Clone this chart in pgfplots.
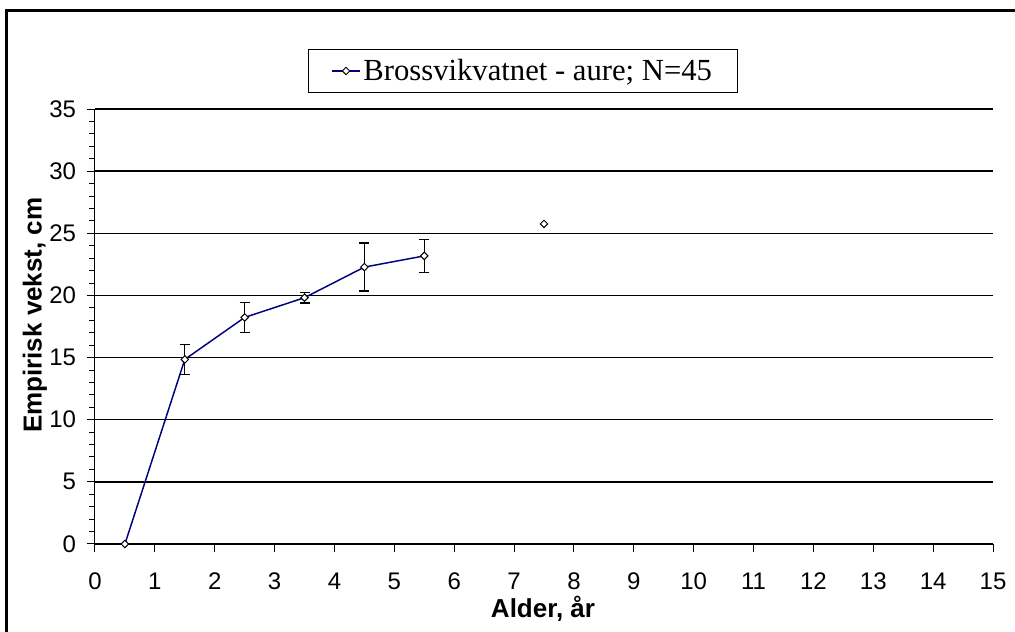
\documentclass[border=0pt]{standalone}
\usepackage{fontspec}
\setmainfont{Liberation Sans}
\newfontfamily\timesfont{Liberation Serif}
\usepackage{pgfplots}
\pgfplotsset{compat=1.18}
\definecolor{navyline}{RGB}{0,0,128}
\begin{document}
\begin{tikzpicture}
\useasboundingbox (0pt,0pt) rectangle (761.25pt,474pt);
\draw[line width=2.25pt] (4.875pt,465.75pt) rectangle (775pt,-15pt);
\begin{axis}[
  at={(71.25pt,66pt)}, anchor=south west,
  scale only axis, width=673.5pt, height=326.25pt,
  xmin=0, xmax=15, ymin=0, ymax=35,
  xtick={0,1,...,15}, ytick={0,5,...,35},
  minor y tick num=4,
  axis x line*=bottom, axis y line*=left,
  axis line style={-, black, line width=0.75pt},
  tick align=outside,
  major tick length=6pt, minor tick length=4.5pt,
  tick style={black, line width=0.75pt},
  ymajorgrids,
  major grid style={black, line width=1.1pt},
  /pgf/number format/assume math mode=true,
  tick label style={font=\fontsize{18}{18}\selectfont, inner sep=0pt},
  yticklabel style={anchor=east, xshift=-8pt},
  xticklabel style={anchor=base, yshift=-28pt},
  xlabel={Alder, år},
  ylabel={Empirisk vekst, cm},
  label style={font=\bfseries\fontsize{19.5}{19.5}\selectfont, inner sep=0pt},
  xlabel style={at={(axis description cs:0.4989,-0.1701)}, anchor=base},
  ylabel style={at={(axis description cs:-0.0594,0.526)}, anchor=base},
  unbounded coords=jump,
  legend style={at={(0.4766,1.0874)}, anchor=center, draw=black, line width=0.75pt,
    font=\timesfont\fontsize{23}{23}\selectfont, inner xsep=17pt, inner ysep=5.25pt},
  legend image code/.code={\draw[#1, mark repeat=2, mark phase=2] plot coordinates {(0pt,0pt) (10.5pt,0pt) (21pt,0pt)};},
]
\addplot[black, only marks, mark=none, forget plot,
  error bars/.cd, y dir=both, y explicit,
  error bar style={black, line width=1pt},
  error mark options={rotate=90, black, mark size=3.75pt, line width=1pt}]
  coordinates {
  (1.5,14.85) +- (0,1.22)
  (2.5,18.23) +- (0,1.22)
  (3.5,19.82) +- (0,0.43)
  (4.5,22.28) +- (0,1.93)
  (5.5,23.18) +- (0,1.32)
};
\addplot[navyline, line width=1.1pt, mark=diamond*,
  mark size=2.8pt, mark options={solid, fill=white, draw=black, line width=0.75pt, xscale=1.33}]
  coordinates {
  (0.5,0) (1.5,14.85) (2.5,18.23) (3.5,19.82) (4.5,22.28) (5.5,23.18) (6.5,nan) (7.5,25.75)
};
\addlegendentry{Brossvikvatnet - aure; N=45}
\end{axis}
\end{tikzpicture}
\end{document}
